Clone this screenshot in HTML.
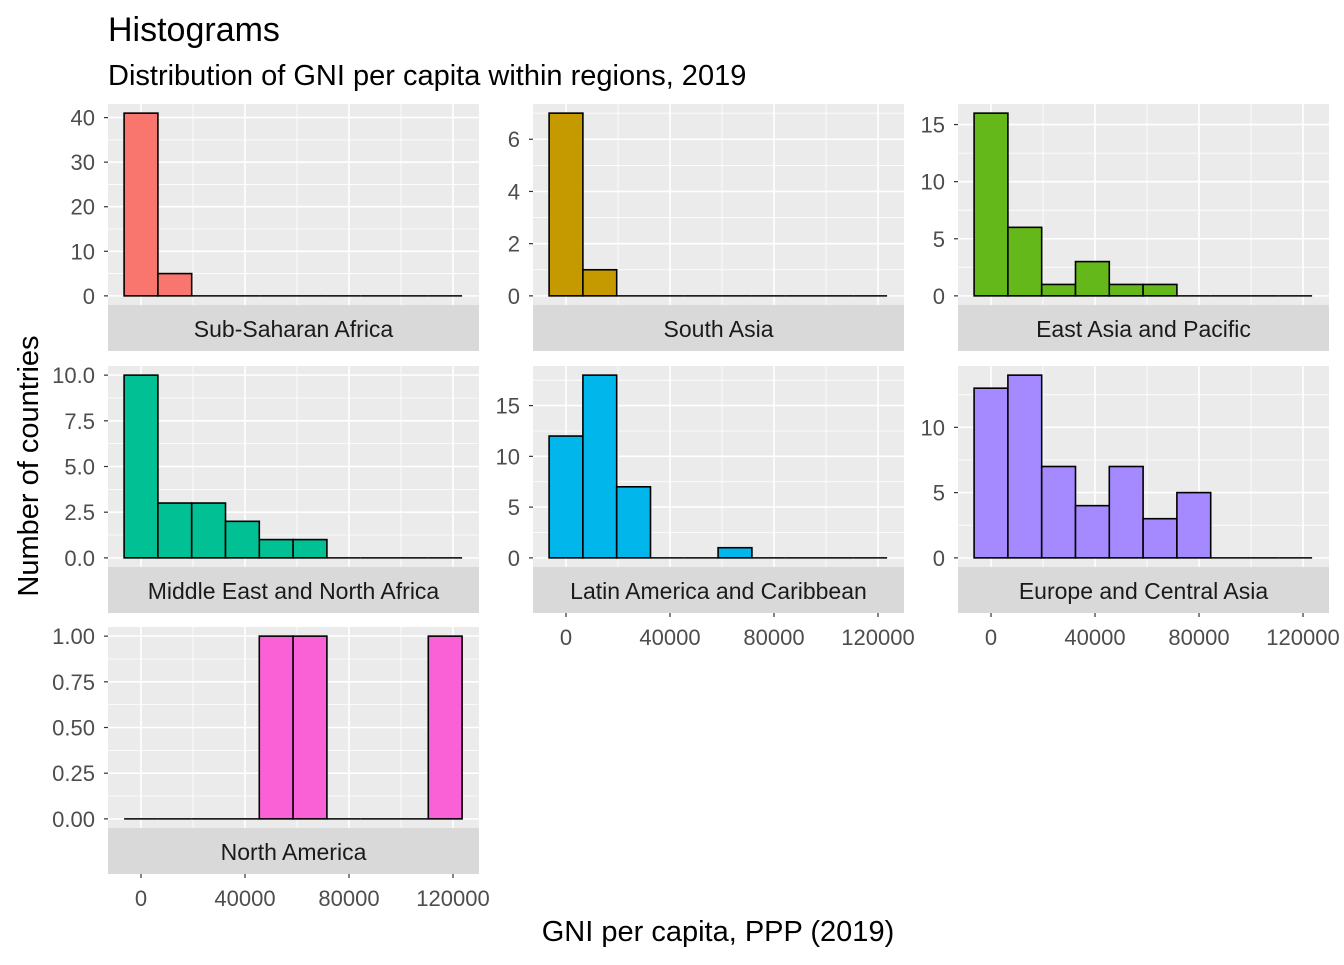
<!DOCTYPE html>
<html><head><meta charset="utf-8"><style>
body{margin:0;background:#fff;font-family:"Liberation Sans",sans-serif;}
svg text{font-family:"Liberation Sans",sans-serif;}
</style></head><body>
<svg id="c" width="1344" height="960" xmlns="http://www.w3.org/2000/svg">
<text x="108" y="41" font-size="34" fill="#000">Histograms</text>
<text x="108" y="85" font-size="29" fill="#000">Distribution of GNI per capita within regions, 2019</text>
<text transform="translate(38,466) rotate(-90)" text-anchor="middle" font-size="29" fill="#000">Number of countries</text>
<text x="718" y="941" text-anchor="middle" font-size="29" fill="#000">GNI per capita, PPP (2019)</text>
</svg>
<script>
const regions=["Sub-Saharan Africa","South Asia","East Asia and Pacific","Middle East and North Africa","Latin America and Caribbean","Europe and Central Asia","North America"];
const colors=["#F8766D","#C49A00","#64B81A","#00C094","#00B6EB","#A58AFF","#FB61D7"];
const binCenters=[0,13000,26000,39000,52000,65000,78000,91000,104000,117000];
const binWidth=13000;
const countsSSA=[41,5,0,0,0,0,0,0,0,0];
const countsSA=[7,1,0,0,0,0,0,0,0,0];
const countsEAP=[16,6,1,3,1,1,0,0,0,0];
const countsMENA=[10,3,3,2,1,1,0,0,0,0];
const countsLAC=[12,18,7,0,0,1,0,0,0,0];
const countsECA=[13,14,7,4,7,3,5,0,0,0];
const countsNA=[0,0,0,0,1,1,0,0,0,1];
const allCounts=[countsSSA,countsSA,countsEAP,countsMENA,countsLAC,countsECA,countsNA];
const yTicks=[[0,10,20,30,40],[0,2,4,6],[0,5,10,15],[0,2.5,5,7.5,10],[0,5,10,15],[0,5,10],[0,0.25,0.5,0.75,1]];
const yTickLabels=[["0","10","20","30","40"],["0","2","4","6"],["0","5","10","15"],["0.0","2.5","5.0","7.5","10.0"],["0","5","10","15"],["0","5","10"],["0.00","0.25","0.50","0.75","1.00"]];
const xTicks=[0,40000,80000,120000];
const xTickLabels=["0","40000","80000","120000"];
const xMinorTicks=[20000,60000,100000];

const svg=document.getElementById('c');
const NS="http://www.w3.org/2000/svg";
function mk(tag,attrs,parent){const e=document.createElementNS(NS,tag);for(const k in attrs)e.setAttribute(k,attrs[k]);(parent||svg).appendChild(e);return e;}
const colX=[108,533,958],rowY=[104,366,627],PW=371,PH=201,SH=46;
const xAxisShown=[false,false,false,false,true,true,true];
regions.forEach((name,i)=>{
  const col=i%3,row=Math.floor(i/3);
  const px=colX[col],py=rowY[row];
  const xs=v=>px+33+(v)*0.0026;
  const mx=Math.max(...allCounts[i]);
  const k=PH/(1.1*mx);
  const y0=py+PH-0.05*mx*k;
  const ys=v=>y0-v*k;
  const g=mk('g',{});
  
  
  const bg=mk('rect',{x:px,y:py,width:PW,height:PH,fill:'#EBEBEB'},g);
  
  
  const t=yTicks[i],step=t[1]-t[0];
  for(let v=t[0]-step/2;v<=mx*1.2+step;v+=step){const yy=ys(v);if(yy>py&&yy<py+PH)mk('line',{x1:px,x2:px+PW,y1:yy,y2:yy,stroke:'#fff','stroke-width':0.8},g);}
  xMinorTicks.forEach(v=>mk('line',{x1:xs(v),x2:xs(v),y1:py,y2:py+PH,stroke:'#fff','stroke-width':0.8},g));
  t.forEach(v=>mk('line',{x1:px,x2:px+PW,y1:ys(v),y2:ys(v),stroke:'#fff','stroke-width':1.6},g));
  xTicks.forEach(v=>mk('line',{x1:xs(v),x2:xs(v),y1:py,y2:py+PH,stroke:'#fff','stroke-width':1.6},g));
  allCounts[i].forEach((c,j)=>{
    const x1=xs(binCenters[j]-binWidth/2),x2=xs(binCenters[j]+binWidth/2);
    if(c>0){
      const r=mk('rect',{x:x1,y:ys(c),width:x2-x1,height:y0-ys(c),fill:colors[i],stroke:'#000','stroke-width':1.6},g);
      
      
    } else {
      const r=mk('line',{x1:x1,x2:x2,y1:y0,y2:y0,stroke:'#000','stroke-width':1.6},g);
      
      
    }
  });
  t.forEach((v,kk)=>{
    mk('line',{x1:px-4,x2:px,y1:ys(v),y2:ys(v),stroke:'#333','stroke-width':1.2},g);
    const tx=mk('text',{x:px-13,y:ys(v)+8,'text-anchor':'end','font-size':22,fill:'#4D4D4D'},g);
    tx.textContent=yTickLabels[i][kk];
    
    
  });
  const st=mk('rect',{x:px,y:py+PH,width:PW,height:SH,fill:'#D9D9D9'},g);
  
  
  const sl=mk('text',{x:px+PW/2,y:py+PH+32,'text-anchor':'middle','font-size':23,fill:'#1A1A1A'},g);
  sl.textContent=name;
  
  
  if(xAxisShown[i]){
    const by=py+PH+SH;
    xTicks.forEach((v,kk)=>{
      mk('line',{x1:xs(v),x2:xs(v),y1:by,y2:by+4,stroke:'#333','stroke-width':1.2},g);
      const tx=mk('text',{x:xs(v),y:by+32,'text-anchor':'middle','font-size':22,fill:'#4D4D4D'},g);
      tx.textContent=xTickLabels[kk];
      
      
    });
  }
});
</script>
</body></html>
